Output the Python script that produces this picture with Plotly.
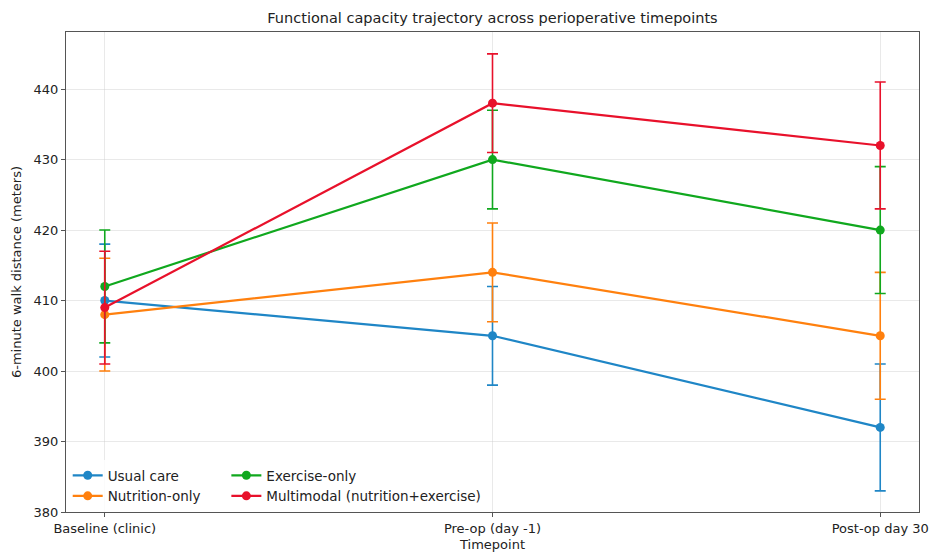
import plotly.graph_objects as go

timepoints = ["Baseline (clinic)", "Pre-op (day -1)", "Post-op day 30"]
usual_care = [410, 405, 392]
usual_care_err = [8, 7, 9]
nutrition_only = [408, 414, 405]
nutrition_only_err = [8, 7, 9]
exercise_only = [412, 430, 420]
exercise_only_err = [8, 7, 9]
multimodal = [409, 438, 432]
multimodal_err = [8, 7, 9]

series = [
    ("Usual care", usual_care, usual_care_err, "#1f86c6", "legend"),
    ("Nutrition-only", nutrition_only, nutrition_only_err, "#ff800e", "legend"),
    ("Exercise-only", exercise_only, exercise_only_err, "#10a81e", "legend2"),
    ("Multimodal (nutrition+exercise)", multimodal, multimodal_err, "#e8112b", "legend2"),
]

fig = go.Figure()
for name, vals, errs, color, lg in series:
    fig.add_trace(go.Scatter(
        x=[0, 1, 2], y=vals, name=name, mode="lines+markers",
        line=dict(color=color, width=2.2),
        marker=dict(color=color, size=9),
        error_y=dict(type="data", array=errs, visible=True, color=color,
                     thickness=1.6, width=5.5),
        legend=lg,
    ))

font = "DejaVu Sans, Arial, sans-serif"
legend_common = dict(
    bgcolor="rgba(255,255,255,0.8)", borderwidth=0,
    font=dict(family=font, size=13.5, color="#222"),
    yanchor="bottom", y=0.0, xanchor="left", tracegroupgap=0,
    itemwidth=30,
)
fig.update_layout(
    width=929, height=552,
    margin=dict(l=66, r=10, t=32, b=40),
    paper_bgcolor="white", plot_bgcolor="white",
    font=dict(family=font, size=13, color="#222"),
    title=dict(text="Functional capacity trajectory across perioperative timepoints",
               x=0.5, xref="paper", xanchor="center", y=0.967, yanchor="middle",
               font=dict(size=14.5, color="#222")),
    legend=dict(x=0.002, **legend_common),
    legend2=dict(x=0.188, **legend_common),
    showlegend=True,
)
fig.update_xaxes(
    range=[-0.1, 2.1], tickmode="array", tickvals=[0, 1, 2], ticktext=timepoints,
    showgrid=True, gridcolor="rgba(200,200,200,0.4)", gridwidth=1,
    showline=True, linecolor="#555", linewidth=1.3, mirror=True,
    ticks="outside", ticklen=4, tickcolor="#555", automargin=False,
    title=dict(text="Timepoint", standoff=6, font=dict(size=13)),
    tickfont=dict(size=13), zeroline=False,
)
fig.update_yaxes(
    range=[380, 448.1], tickmode="array", tickvals=[380, 390, 400, 410, 420, 430, 440],
    showgrid=True, gridcolor="rgba(200,200,200,0.4)", gridwidth=1,
    showline=True, linecolor="#555", linewidth=1.3, mirror=True,
    ticks="outside", ticklen=4, tickcolor="#555", automargin=False,
    title=dict(text="6-minute walk distance (meters)", standoff=8, font=dict(size=13)),
    tickfont=dict(size=13), zeroline=False,
)
fig.write_html("out.html")
